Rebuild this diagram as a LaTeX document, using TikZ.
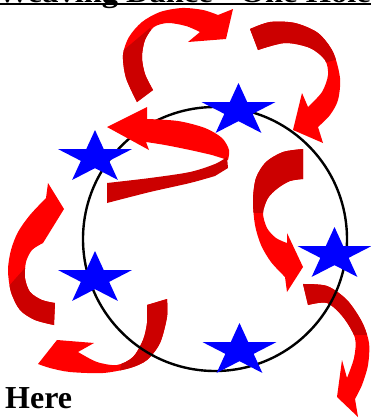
\documentclass[tikz,border=0pt]{standalone}
\usepackage{fontspec}
\setmainfont{Liberation Serif}
\usepackage{xcolor}
\definecolor{arrowred}{HTML}{FF0000}
\definecolor{arrowdark}{HTML}{CC0000}
\definecolor{starblue}{HTML}{0000FF}

% outlines of the curved ribbon arrows (pixel coordinates, y down)
\def\arrowA{plot[smooth] coordinates {(137,102) (126,78) (123,55) (129,37) (142,22) (160,12) (182,8) (203,10) (218,15)}
  -- (233,9) -- (226,39) -- (188,42) -- (200,32)
  -- plot[smooth] coordinates {(200,32) (186,26) (168,23) (154,27) (145,40) (142,57) (145,74) (153,90)} -- cycle}
\def\arrowB{plot[smooth] coordinates {(250,29) (270,22) (295,23) (318,33) (333,52) (340,78) (338,100) (330,115) (318,127)}
  -- (323,143) -- (293,130) -- (302,93) -- (308,107)
  -- plot[smooth] coordinates {(308,107) (322,92) (328,75) (325,60) (310,48) (285,43) (258,50)} -- cycle}
\def\arrowD{plot[smooth] coordinates {(303,149) (283,152) (266,162) (256,178) (253,200) (255,225) (261,245) (271,262) (285,277)}
  -- (287,292) -- (303,267) -- (287,233) -- (287,243)
  -- plot[smooth] coordinates {(287,243) (276,238) (267,228) (263,213) (268,198) (278,188) (290,181) (303,179)} -- cycle}
\def\arrowE{plot[smooth] coordinates {(303,284) (327,286) (347,300) (362,322) (369,343) (368,365) (362,385) (355,399)}
  -- (358,417) -- (337,397) -- (342,360) -- (347,378)
  -- plot[smooth] coordinates {(347,378) (354,358) (355,338) (343,317) (327,303) (308,305)} -- cycle}
\def\arrowF{plot[smooth] coordinates {(54,325) (35,320) (20,310) (11,292) (8,270) (11,250) (18,232) (30,215) (46,198)}
  -- (48,183) -- (64,209) -- (43,243)
  -- plot[smooth] coordinates {(43,243) (32,250) (26,262) (25,278) (30,292) (42,300) (55,303)} -- cycle}
\def\arrowG{(147,305) -- plot[smooth] coordinates {(167,299) (167,317) (160,343) (147,360) (130,368) (103,373) (70,372) (50,368) (38,364)}
  -- (57,340) -- (94,343) -- (78,352)
  -- plot[smooth] coordinates {(78,352) (97,362) (117,365) (133,357) (143,340) (147,323) (147,305)} -- cycle}

\begin{document}
\begin{tikzpicture}[x=1pt,y=-1pt,
  front/.style={fill=arrowred},
  back/.style={fill=arrowdark},
  ring/.style={draw=black,line width=2.4pt}]
\useasboundingbox (0,0) rectangle (371,418);

% title, mostly cut off at the top
\node[font=\bfseries\fontsize{28}{30}\selectfont, xscale=1.16, anchor=base west, inner sep=0pt] (title) at (-3,2.5) {Weaving Dance - One Hole};
\draw[line width=2pt] (-5,4.3) -- (380,4.3);

% arrows behind the ring
\fill[front] \arrowB;
\begin{scope}
  \clip (240,0) -- (350,0) -- (350,56) -- (320,64) -- (240,64) -- cycle;
  \fill[back] \arrowB;
\end{scope}
\fill[front] \arrowE;
\begin{scope}
  \clip (290,270) -- (380,270) -- (380,334) -- (290,334) -- cycle;
  \fill[back] \arrowE;
\end{scope}
\fill[front] \arrowG;
\begin{scope}
  \clip (118,380) -- (124,350) -- (124,290) -- (180,290) -- (180,380) -- cycle;
  \fill[back] \arrowG;
\end{scope}

% the ring
\coordinate (centre) at (215,239);
\draw[ring] (centre) circle[radius=132];

% arrows in front of the ring
\fill[front] \arrowA;
\begin{scope}
  \clip (100,70) -- (150,28) -- (156,40) -- (170,120) -- (100,120) -- cycle;
  \fill[back] \arrowA;
\end{scope}
\fill[front] (107,127) -- (147,107) -- plot[smooth] coordinates {(147,119) (178,121) (205,128) (222,138) (229,150) (228,160)}
  -- plot[smooth] coordinates {(212,155) (190,150) (165,145) (146,142)} -- (149,150) -- cycle;
\fill[back] plot[smooth] coordinates {(107,183) (150,178) (190,172) (215,164) (227,157)} -- (228,168)
  -- plot[smooth] coordinates {(215,176) (190,183) (150,192) (107,203)} -- cycle;
\fill[front] \arrowD;
\begin{scope}
  \clip (240,140) -- (310,140) -- (310,212) -- (240,212) -- cycle;
  \fill[back] \arrowD;
\end{scope}
\fill[front] \arrowF;
\begin{scope}
  \clip (0,296) -- (32,260) -- (70,260) -- (70,340) -- (0,340) -- cycle;
  \fill[back] \arrowF;
\end{scope}

% stars
\foreach \cx/\cy in {238.5/110.6, 95/157.6, 95/278.6, 334.5/254.6, 239.5/350.6} {
  \fill[starblue] plot[samples at={0,...,9}] ({\cx+38.9*(1-0.618*mod(\x,2))*cos(-90+36*\x)}, {\cy+27.6*(1-0.618*mod(\x,2))*sin(-90+36*\x)}) -- cycle;
}

\node[font=\bfseries\fontsize{32}{34}\selectfont, anchor=base west, inner sep=0pt] (here) at (5,408) {Here};
\end{tikzpicture}
\end{document}
